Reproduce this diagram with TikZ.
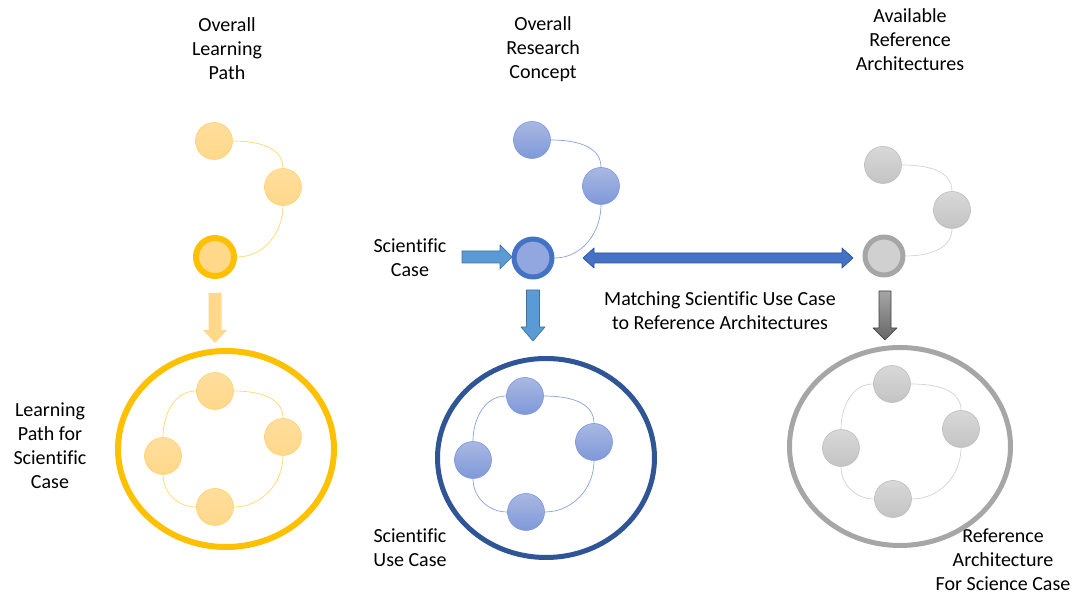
\documentclass[tikz,border=0pt]{standalone}
\usepackage{fontspec}
\setmainfont{Carlito}[RawFeature={-liga;-clig}]
\usepackage{tikz}
\usetikzlibrary{shapes.geometric,positioning}
\definecolor{penYellow}{HTML}{FFC000}
\definecolor{ballYellow}{HTML}{FFD88A}
\definecolor{ballYellowTop}{HTML}{FFDD9C}
\definecolor{edgeYellow}{HTML}{FFD36E}
\definecolor{linkYellow}{HTML}{FFD966}
\definecolor{penBlue}{HTML}{2F5597}
\definecolor{ringBlue}{HTML}{4472C4}
\definecolor{ballBlue}{HTML}{7F98D9}
\definecolor{ballBlueTop}{HTML}{A9B8E2}
\definecolor{edgeBlue}{HTML}{7B97DD}
\definecolor{linkBlue}{HTML}{86A2E0}
\definecolor{arrowBlue}{HTML}{5B9BD5}
\definecolor{arrowBlueEdge}{HTML}{41719C}
\definecolor{arrowDark}{HTML}{2F528F}
\definecolor{penGray}{HTML}{A6A6A6}
\definecolor{ballGray}{HTML}{C4C4C4}
\definecolor{ballGrayTop}{HTML}{D8D8D8}
\definecolor{edgeGray}{HTML}{BDBDBD}
\definecolor{linkGray}{HTML}{D2D2D2}
\tikzset{
  txt/.style={align=center,font=\fontsize{20}{24}\selectfont,inner sep=0pt},
  ball/.style={circle,inner sep=0pt,minimum size=37pt,line width=0.6pt},
  ballY/.style={ball,draw=edgeYellow,top color=ballYellowTop,bottom color=ballYellow},
  ballB/.style={ball,draw=edgeBlue,top color=ballBlueTop,bottom color=ballBlue},
  ballG/.style={ball,draw=edgeGray,top color=ballGrayTop,bottom color=ballGray},
  ringY/.style={ball,minimum size=38pt,line width=6pt,draw=penYellow,fill=ballYellow},
  ringB/.style={ball,minimum size=38pt,line width=5pt,draw=ringBlue,fill=ballBlue!85!white},
  ringG/.style={ball,minimum size=38pt,line width=5pt,draw=penGray,fill=ballGray!80!white},
  frame/.style={ellipse,inner sep=0pt},
  linkY/.style={linkYellow,line width=0.7pt},
  linkB/.style={linkBlue,line width=0.7pt},
  linkG/.style={linkGray,line width=0.7pt}
}

\begin{document}
\begin{tikzpicture}[x=1pt,y=1pt,line cap=round,line join=round]
  \useasboundingbox (0,0) rectangle (1072,596);

  % titles and labels
  \node[txt] (lpTitle) at (227,547) {Overall\\Learning\\Path};
  \node[txt] (rcTitle) at (543,547) {Overall\\Research\\Concept};
  \node[txt] (raTitle) at (910,556) {Available\\Reference\\Architectures};
  \node[txt] (scLabel) at (410,338) {Scientific\\Case};
  \node[txt] (matchLabel) at (720,285) {Matching Scientific Use Case\\to Reference Architectures};
  \node[txt] (lpLabel) at (50,150) {Learning\\Path for\\Scientific\\Case};
  \node[txt] (ucLabel) at (410,48) {Scientific\\Use Case};
  \node[txt] (raLabel) at (1003,36) {Reference\\Architecture\\For Science Case};

  % overall learning path
  \node[ballY] (yTop) at (214,455) {};
  \node[ballY] (yMid) at (283,409) {};
  \node[ringY] (yRing) at (215,339) {};
  \draw[linkY] (yTop.east) to[out=0,in=90] (yMid.north);
  \draw[linkY] (yMid.south) to[out=-90,in=0] (yRing.east);

  % overall research concept
  \node[ballB] (bTop) at (532,456) {};
  \node[ballB] (bMid) at (601,410) {};
  \node[ringB] (bRing) at (533,338) {};
  \draw[linkB] (bTop.east) to[out=0,in=90] (bMid.north);
  \draw[linkB] (bMid.south) to[out=-90,in=0] (bRing.east);

  % available reference architectures
  \node[ballG] (gTop) at (883,431) {};
  \node[ballG] (gMid) at (952,386) {};
  \node[ringG] (gRing) at (884,340) {};
  \draw[linkG] (gTop.east) to[out=0,in=90] (gMid.north);
  \draw[linkG] (gMid.south) to[out=-90,in=0] (gRing.east);

  % block arrows
  \fill[ballYellow] (208.5,303) -- (221.5,303) -- (221.5,266) -- (227,266) -- (215,253)
    -- (203,266) -- (208.5,266) -- cycle;
  \draw[arrowBlueEdge,fill=arrowBlue,line width=0.7pt] (526.5,306) -- (539.5,306) -- (539.5,269)
    -- (545,269) -- (533,255) -- (521,269) -- (526.5,269) -- cycle;
  \draw[arrowBlueEdge,fill=arrowBlue,line width=0.7pt] (462,345) -- (500,345) -- (500,351)
    -- (512,339) -- (500,327) -- (500,333) -- (462,333) -- cycle;
  \draw[arrowDark,fill=ringBlue,line width=0.7pt] (583,338) -- (594,348) -- (594,343) -- (842,343)
    -- (842,348) -- (853,338) -- (842,328) -- (842,333) -- (594,333) -- (594,328) -- cycle;
  \draw[black!75,top color=black!35,bottom color=black!60,line width=0.7pt] (879,305) -- (891,305)
    -- (891,268) -- (897,268) -- (885,256) -- (873,268) -- (879,268) -- cycle;

  % learning path for scientific case
  \node[frame,draw=penYellow,line width=6pt,minimum width=216pt,minimum height=196pt] (lpFrame) at (226,147) {};
  \node[ballY] (lTop) at (215,205) {};
  \node[ballY] (lRight) at (283,159) {};
  \node[ballY] (lLeft) at (163,140) {};
  \node[ballY] (lBot) at (215,89) {};
  \draw[linkY] (lTop.east) to[out=0,in=90] (lRight.north);
  \draw[linkY] (lRight.south) to[out=-90,in=0] (lBot.east);
  \draw[linkY] (lBot.west) to[out=180,in=-90] (lLeft.south);
  \draw[linkY] (lLeft.north) to[out=90,in=180] (lTop.west);

  % scientific use case
  \node[frame,draw=penBlue,line width=5pt,minimum width=217pt,minimum height=199pt] (ucFrame) at (546,138) {};
  \node[ballB] (uTop) at (525,200) {};
  \node[ballB] (uRight) at (594,154) {};
  \node[ballB] (uLeft) at (473,136) {};
  \node[ballB] (uBot) at (526,84) {};
  \draw[linkB] (uTop.east) to[out=0,in=90] (uRight.north);
  \draw[linkB] (uRight.south) to[out=-90,in=0] (uBot.east);
  \draw[linkB] (uBot.west) to[out=180,in=-90] (uLeft.south);
  \draw[linkB] (uLeft.north) to[out=90,in=180] (uTop.west);

  % reference architecture for science case
  \node[frame,draw=penGray,line width=5pt,minimum width=221pt,minimum height=198pt] (raFrame) at (900,149.5) {};
  \node[ballG] (rTop) at (892,212) {};
  \node[ballG] (rRight) at (961,167) {};
  \node[ballG] (rLeft) at (841,148) {};
  \node[ballG] (rBot) at (893,97) {};
  \draw[linkG] (rTop.east) to[out=0,in=90] (rRight.north);
  \draw[linkG] (rRight.south) to[out=-90,in=0] (rBot.east);
  \draw[linkG] (rBot.west) to[out=180,in=-90] (rLeft.south);
  \draw[linkG] (rLeft.north) to[out=90,in=180] (rTop.west);
\end{tikzpicture}
\end{document}
